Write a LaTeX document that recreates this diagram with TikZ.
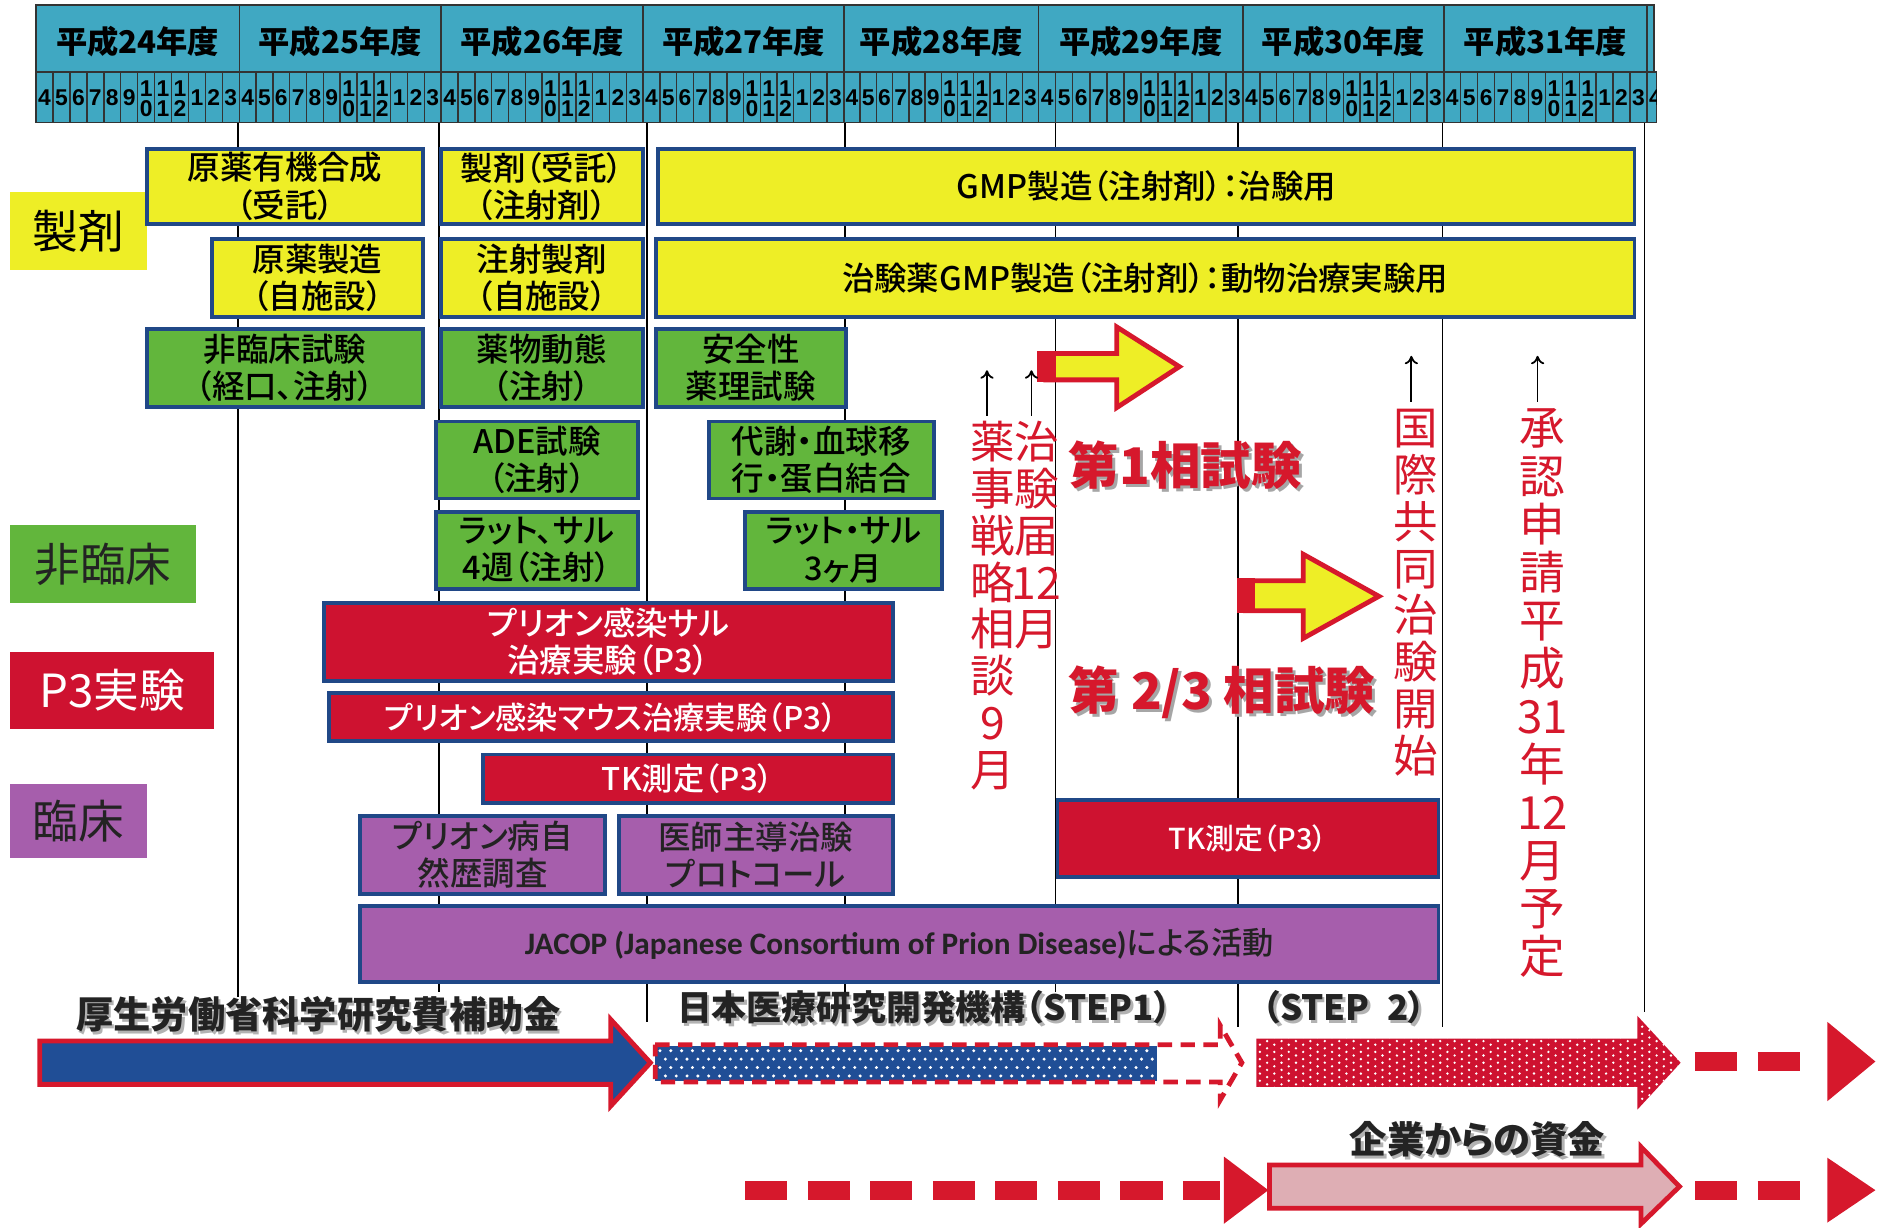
\documentclass[tikz,border=0pt]{standalone}
\usepackage{fontspec}
\setmainfont{Noto Sans CJK JP}[RawFeature=+palt]
\newfontfamily\jpmed{Noto Sans CJK JP Medium}[RawFeature=+palt]
\newfontfamily\carl{Carlito}
\newfontfamily\arl{Liberation Sans}
\usetikzlibrary{arrows.meta}
\definecolor{hdr}{RGB}{64,168,194}
\definecolor{yel}{RGB}{238,238,38}
\definecolor{grn}{RGB}{98,182,60}
\definecolor{redb}{RGB}{206,18,48}
\definecolor{pur}{RGB}{166,94,172}
\definecolor{bord}{RGB}{32,72,135}
\definecolor{txtred}{RGB}{214,24,44}
\definecolor{blu}{RGB}{32,78,150}
\definecolor{pnk}{RGB}{222,174,180}
\definecolor{dk}{RGB}{35,35,35}
\newcommand\fsz[2]{\fontsize{#1bp}{#2bp}\selectfont}
\newcommand\tbox[7]{\node[#1, minimum width={(#5-#3)*1bp}, minimum height={(#6-#4)*1bp}] (#2) at (#3,#4) {#7};}
\begin{document}
\begin{tikzpicture}[x=1bp,y=-1bp,
 gridl/.style={line width=1.3bp, draw=black},
 hline/.style={line width=1.2bp, draw=black!80},
 yearlbl/.style={font=\bfseries\fsz{26}{26}, inner sep=0pt, text=black},
 monl/.style={font=\arl\bfseries\fsz{19}{19}, inner sep=0pt},
 bx/.style={draw=bord, line width=3.2bp, inner sep=0pt, align=center, anchor=north west, font=\jpmed\fsz{27}{31}},
 ybx/.style={bx, fill=yel},
 gbx/.style={bx, fill=grn},
 rbx/.style={bx, fill=redb, text=white},
 pbx/.style={bx, fill=pur, text=dk},
 cat/.style={inner sep=0pt, anchor=north west, font=\fsz{38}{38}, align=center},
 vtx/.style={text=txtred, inner sep=0pt, anchor=north, align=center, font=\fsz{37}{39}},
 upar/.style={-{To[length=7bp,width=11bp]}, line width=1.5bp, black},
 big/.style={font=\bfseries\fsz{42}{42}, inner sep=0pt, anchor=west},
 fund/.style={font=\bfseries\fsz{31}{31}, inner sep=0pt},
 blk/.style={line width=4bp, draw=txtred, line join=miter},
 dsh/.style={line width=16bp, draw=txtred, dash pattern=on 35bp off 17bp},
]
\useasboundingbox (0,0) rectangle (1568,1021);
\fill[white] (0,0) rectangle (1568,1021);

% grid lines
\foreach \gx/\gy in {198/829,365/825,538/850,703/825,878/825,1030/854,1200/854,1368/842}
  \draw[gridl] (\gx,100) -- (\gx,\gy);

% header
\foreach \xa/\xb/\yy in {30/199/24,199/367/25,367/535/26,535/702/27,702/864/28,864/1034/29,1034/1201/30,1201/1370/31}{
  \draw[hline, fill=hdr] (\xa,4) rectangle (\xb,60);
  \node[yearlbl] (yr\yy) at ({(\xa+\xb)/2},35) {平成\yy 年度};
  \foreach \m [count=\k from 0] in {4,5,6,7,8,9,10,11,12,1,2,3}{
    \pgfmathsetmacro\xl{\xa+\k*(\xb-\xa)/12}
    \pgfmathsetmacro\xc{\xa+(\k+0.5)*(\xb-\xa)/12}
    \pgfmathsetmacro\xr{\xa+(\k+1)*(\xb-\xa)/12}
    \draw[hline, fill=hdr] (\xl,60) rectangle (\xr,102);
    \ifnum\m>9
      \node[monl] (mt\yy-\k) at (\xc,73.5) {1};
      \node[monl] (mb\yy-\k) at (\xc,90) {\the\numexpr\m-10\relax};
    \else
      \node[monl] (m\yy-\k) at (\xc,81) {\m};
    \fi
  }
}
\draw[hline, fill=hdr] (1370,4) rectangle (1376,60);
\draw[hline, fill=hdr] (1370,60) rectangle (1378,102);
\begin{scope}
\clip (1370,60) rectangle (1378,102);
\node[monl] (mx) at (1377,81) {4};
\end{scope}

% category labels
\fill[yel] (8,160) rectangle (122,225);
\node[cat, minimum width=114bp, minimum height=65bp] (cat1) at (8,160) {製剤};
\fill[grn] (8,437) rectangle (163,502);
\node[cat, minimum width=155bp, minimum height=65bp, text=dk] (cat2) at (8,437) {非臨床};
\fill[redb] (8,542) rectangle (178,606);
\node[cat, minimum width=170bp, minimum height=64bp, text=white] (cat3) at (8,542) {P3実験};
\fill[pur] (8,652) rectangle (122,714);
\node[cat, minimum width=114bp, minimum height=62bp, text=dk] (cat4) at (8,652) {臨床};

% yellow boxes
\tbox{ybx}{y1}{121}{122}{350}{185}{原薬有機合成\\（受託）}
\tbox{ybx}{y2}{365}{122}{533}{185}{製剤（受託）\\（注射剤）}
\tbox{ybx}{y3}{546}{122}{1358}{185}{GMP製造（注射剤）：治験用}
\tbox{ybx}{y4}{175}{197}{350}{262}{原薬製造\\（自施設）}
\tbox{ybx}{y5}{365}{197}{533}{262}{注射製剤\\（自施設）}
\tbox{ybx}{y6}{544}{197}{1358}{262}{治験薬GMP製造（注射剤）：動物治療実験用}
% green boxes
\tbox{gbx}{g1}{121}{272}{350}{337}{非臨床試験\\（経口、注射）}
\tbox{gbx}{g2}{365}{272}{533}{337}{薬物動態\\（注射）}
\tbox{gbx}{g3}{544}{272}{702}{337}{安全性\\薬理試験}
\tbox{gbx}{g4}{361}{349}{529}{413}{ADE試験\\（注射）}
\tbox{gbx}{g5}{588}{349}{775}{413}{代謝・血球移\\行・蛋白結合}
\tbox{gbx}{g6}{361}{424}{529}{488}{ラット、サル\\4週（注射）}
\tbox{gbx}{g7}{618}{424}{782}{488}{ラット・サル\\3ヶ月}
% red boxes
\tbox{rbx}{r1}{268}{500}{741}{565}{プリオン感染サル\\治療実験（P3）}
\tbox{rbx, font=\jpmed\fsz{26}{30}}{r2}{272}{575}{741}{615}{プリオン感染マウス治療実験（P3）}
\tbox{rbx, font=\jpmed\fsz{26}{30}}{r3}{400}{626}{741}{666}{TK測定（P3）}
\tbox{rbx, font=\jpmed\fsz{24}{30}}{r4}{878}{664}{1195}{728}{TK測定（P3）}
% purple boxes
\tbox{pbx}{p1}{298}{677}{502}{742}{プリオン病自\\然歴調査}
\tbox{pbx}{p2}{513}{677}{741}{742}{医師主導治験\\プロトコール}
\tbox{pbx, font=\jpmed\fsz{26}{30}}{p3}{298}{752}{1195}{815}{{\carl\bfseries JACOP (Japanese Consortium of Prion Disease)}による活動}

% block arrows (yellow)
\filldraw[blk, fill=yel] (870,294) -- (929,294) -- (929,272) -- (981,305) -- (929,339) -- (929,316) -- (870,316) -- cycle;
\fill[txtred] (863,292) rectangle (878,318);
\filldraw[blk, fill=yel] (1036,483) -- (1084,483) -- (1084,461) -- (1147,496) -- (1084,531) -- (1084,508) -- (1036,508) -- cycle;
\fill[txtred] (1029,481) rectangle (1044,510);

% vertical annotations
\node[vtx] (v1) at (826,350) {薬\\事\\戦\\略\\相\\談\\9\\月};
\node[vtx] (v2) at (862,350) {治\\験\\届\\12\\月};
\node[vtx] (v3) at (1178,340) {国\\際\\共\\同\\治\\験\\開\\始};
\node[vtx, font=\fsz{38}{40}] (v4) at (1283,340) {承\\認\\申\\請\\平\\成\\31\\年\\12\\月\\予\\定};
\coordinate (a1s) at (821,346); \coordinate (a1e) at (821,308);
\coordinate (a2s) at (858,346); \coordinate (a2e) at (858,308);
\coordinate (a3s) at (1174,334); \coordinate (a3e) at (1174,296);
\coordinate (a4s) at (1279,334); \coordinate (a4e) at (1279,296);
\draw[upar] (a1s) -- (a1e);
\draw[upar] (a2s) -- (a2e);
\draw[upar] (a3s) -- (a3e);
\draw[upar] (a4s) -- (a4e);

% big red texts
\node[big, text=black!35] (ph1s) at (891.5,389.5) {第1相試験};
\node[big, text=txtred] (ph1) at (889,387) {第1相試験};
\node[big, text=black!35] (ph2s) at (891.5,578.5) {第 2/3 相試験};
\node[big, text=txtred] (ph2) at (889,576) {第 2/3 相試験};

% funding texts
\node[fund, text=black!30] (f1s) at (267,846) {厚生労働省科学研究費補助金};
\node[fund, text=dk] (f1) at (265,844) {厚生労働省科学研究費補助金};
\node[fund, font=\bfseries\fsz{29}{29}, text=black!30, anchor=west] (f2s) at (565,840) {日本医療研究開発機構（STEP1）};
\node[fund, font=\bfseries\fsz{29}{29}, text=dk, anchor=west] (f2) at (563,838) {日本医療研究開発機構（STEP1）};
\node[fund, font=\bfseries\fsz{29}{29}, text=black!30, anchor=west] (f3s) at (1052,840) {（STEP\enspace 2）};
\node[fund, font=\bfseries\fsz{29}{29}, text=dk, anchor=west] (f3) at (1050,838) {（STEP\enspace 2）};
\node[fund, text=black!30] (f4s) at (1231,950) {企業からの資金};
\node[fund, text=dk] (f4) at (1229,948) {企業からの資金};

% funding arrows
\filldraw[blk, fill=blu] (33,866) -- (508,866) -- (508,848) -- (541,884) -- (508,920) -- (508,902) -- (33,902) -- cycle;
% STEP1 dotted blue
\fill[blu] (545,870) rectangle (962,899);
\foreach \i in {0,...,45} \foreach \j in {0,...,3}
  \fill[white] ({549+9*\i+4.5*mod(\j,2)},{874+7*\j}) circle (1.4);
\draw[txtred, line width=4bp, dash pattern=on 12bp off 7bp] (545,869) -- (1015,869) -- (1015,853) -- (1033,884) -- (1015,915) -- (1015,900) -- (545,900) -- cycle;
% STEP2 dotted red
\begin{scope}
\clip (1045,864) -- (1362,864) -- (1362,845) -- (1398,884) -- (1362,923) -- (1362,904) -- (1045,904) -- cycle;
\fill[redb] (1040,840) rectangle (1400,930);
\foreach \i in {0,...,58} \foreach \j in {0,...,13}
  \fill[white] ({1048+6*\i},{845+6*\j+3*mod(\i,2)}) circle (1.1);
\end{scope}
% right dashed arrow (top)
\draw[dsh] (1410,883) -- (1500,883);
\fill[txtred] (1520,850) -- (1560,883) -- (1520,916) -- cycle;
% lower dashed arrow
\draw[dsh] (620,990) -- (1015,990);
\fill[txtred] (1018,962) -- (1055,990) -- (1018,1018) -- cycle;
% pink arrow
\filldraw[blk, fill=pnk] (1056,969) -- (1365,969) -- (1365,954) -- (1397,987) -- (1365,1018) -- (1365,1005) -- (1056,1005) -- cycle;
% right dashed arrow (bottom)
\draw[dsh] (1410,990) -- (1500,990);
\fill[txtred] (1520,963) -- (1560,990) -- (1520,1017) -- cycle;
\end{tikzpicture}
\end{document}
